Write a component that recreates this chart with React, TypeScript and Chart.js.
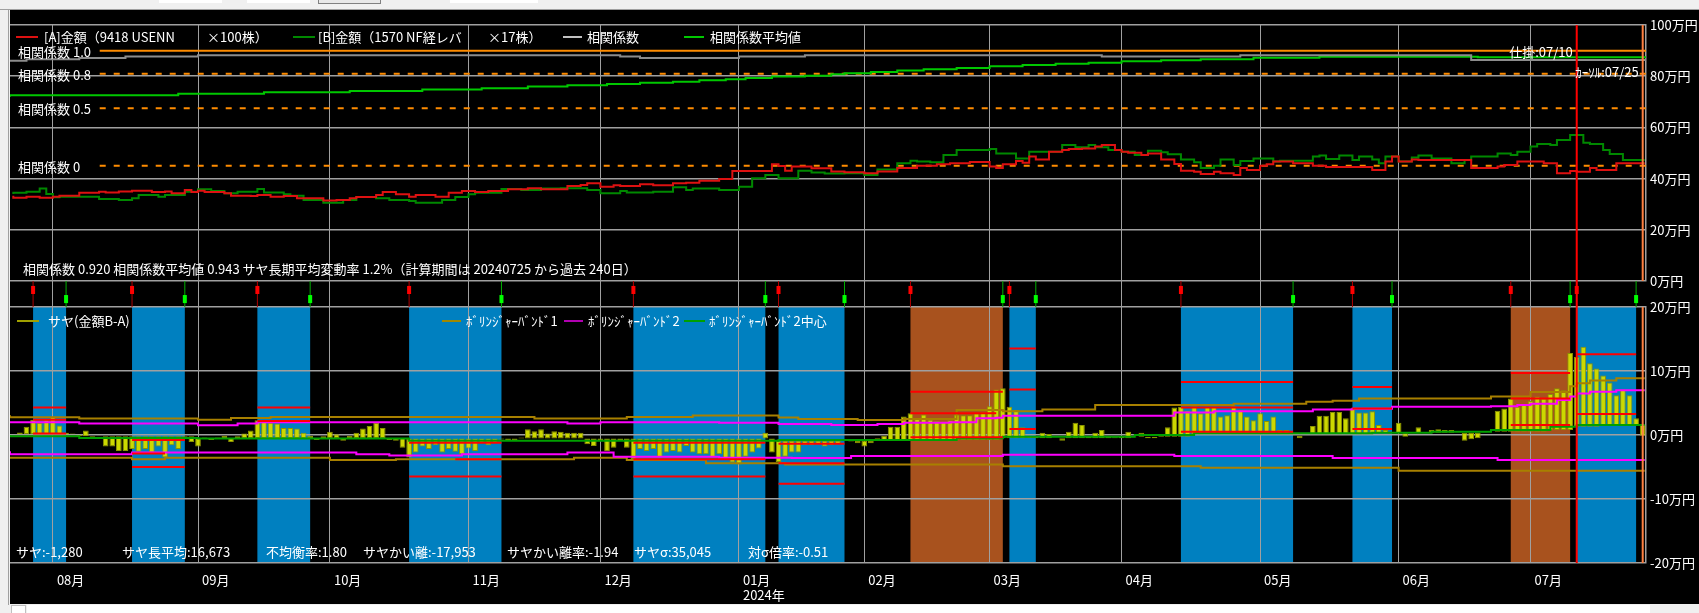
import React, { useEffect, useRef } from 'react';
import { Chart, registerables } from 'chart.js';

Chart.register(...registerables);

const FONT = '"Noto Sans CJK JP", "Noto Sans", sans-serif';
Chart.defaults.font.family = FONT;

// ---------- categories: trading-day index 0..247 (2023-07-24 .. 2024-07-25) ----------
const dayCount = 248;
const monthStartIdx = [6, 28, 48, 69, 89, 110, 129, 148, 168, 189, 210, 230];
const monthLabels = ['08月', '09月', '10月', '11月', '12月', '01月', '02月', '03月', '04月', '05月', '06月', '07月'];
const yearLabel = '2024年';
const yearLabelMonth = 5;
const entryMarkDay = 237; // 仕掛 07/10
const cursorDay = 247; // カーソル 07/25

// ---------- top panel: amounts (万円), step change points [day, value] ----------
const amountA: number[][] = [
  [0, 33.3], [2, 32.5], [4, 32.9], [6, 32.5], [7, 32.9], [10, 33.3], [13, 34.5], [14, 34.9], [16, 34.6], [18, 35.0],
  [21, 35.3], [23, 34.8], [24, 35.0], [26, 34.3], [27, 35.5], [28, 34.8], [29, 35.3], [32, 34.8], [33, 34.3], [36, 33.3],
  [37, 33.2], [39, 33.6], [41, 32.9], [43, 33.2], [47, 32.3], [49, 31.4], [51, 31.6], [52, 32.3], [55, 32.8], [56, 33.6],
  [58, 34.8], [60, 33.9], [61, 32.9], [64, 33.6], [66, 32.9], [68, 34.5], [70, 35.2], [72, 34.8], [75, 35.2], [78, 35.8],
  [80, 36.2], [84, 35.8], [86, 37.1], [87, 37.5], [89, 38.2], [91, 36.8], [92, 37.4], [95, 37.1], [97, 37.8], [100, 37.4],
  [102, 38.2], [104, 38.4], [107, 39.2], [109, 39.8], [115, 43.0], [116, 45.6], [117, 44.9], [118, 43.1], [121, 44.7], [124, 44.0],
  [126, 42.8], [129, 42.45], [131, 42.06], [134, 42.8], [137, 44.1], [140, 45.0], [142, 45.6], [145, 46.0], [148, 46.5], [149, 44.7],
  [150, 44.1], [152, 45.6], [153, 46.9], [154, 46.2], [155, 48.6], [157, 47.5], [159, 50.5], [160, 51.2], [162, 51.6], [164, 51.8],
  [165, 52.5], [167, 53.1], [168, 51.2], [169, 50.5], [171, 50.1], [172, 49.2], [174, 49.8], [176, 47.5], [177, 45.7], [179, 43.1],
  [180, 42.7], [182, 41.8], [183, 42.7], [185, 42.1], [186, 41.4], [187, 44.1], [189, 43.4], [190, 45.0], [191, 45.6], [194, 46.7],
  [197, 46.0], [199, 45.0], [206, 44.5], [208, 43.4], [209, 46.7], [210, 48.6], [212, 46.7], [213, 47.5], [221, 47.3], [225, 44.1],
  [226, 44.7], [228, 45.3], [232, 46.7], [234, 46.0], [236, 42.1], [237, 43.0], [239, 42.7], [240, 44.1], [243, 43.4], [246, 46.0],
];
const amountB: number[][] = [
  [0, 34.0], [2, 34.5], [4, 34.9], [5, 36.1], [6, 34.0], [7, 32.7], [13, 32.9], [16, 32.0], [18, 31.6], [19, 32.3],
  [22, 33.6], [23, 32.9], [26, 33.6], [28, 34.9], [30, 35.8], [32, 35.2], [34, 34.3], [37, 34.9], [38, 35.9], [41, 34.6],
  [42, 33.9], [44, 33.3], [47, 31.6], [50, 30.6], [52, 31.6], [55, 32.8], [57, 32.3], [60, 31.6], [61, 31.25], [65, 30.6],
  [67, 31.6], [69, 32.8], [70, 33.9], [74, 34.5], [77, 35.9], [80, 35.5], [83, 36.1], [87, 36.2], [89, 35.5], [92, 34.3],
  [93, 35.2], [97, 34.6], [100, 34.9], [102, 36.6], [103, 35.5], [107, 36.1], [110, 35.5], [112, 36.8], [114, 40.1], [116, 41.4],
  [119, 40.1], [121, 43.1], [123, 42.4], [126, 42.0], [129, 42.1], [131, 41.4], [134, 43.6], [136, 46.0], [137, 47.0], [139, 46.7],
  [141, 46.4], [143, 49.2], [148, 51.2], [149, 51.6], [152, 49.8], [154, 47.9], [159, 50.5], [161, 53.1], [163, 52.2], [164, 53.1],
  [166, 52.2], [168, 51.2], [170, 50.5], [172, 49.2], [174, 50.9], [175, 50.3], [177, 49.5], [179, 47.5], [180, 46.4], [182, 44.1],
  [183, 45.0], [185, 47.5], [186, 45.3], [188, 46.9], [191, 47.9], [192, 46.7], [197, 47.0], [198, 48.6], [199, 49.0], [201, 47.7],
  [203, 49.0], [204, 47.3], [206, 48.6], [207, 47.5], [208, 46.0], [210, 48.6], [212, 46.7], [213, 48.2], [215, 49.0], [218, 47.9],
  [220, 46.0], [221, 47.3], [225, 48.6], [227, 49.8], [228, 49.2], [230, 50.5], [231, 52.5], [233, 53.5], [234, 53.1], [236, 55.1],
  [238, 57.0], [239, 54.0], [241, 53.5], [242, 51.2], [244, 49.6], [246, 47.3],
];

// ---------- top panel: correlation (own axis), step change points ----------
const correlation: number[][] = [
  [-0.5, 0.904], [2, 0.913], [10, 0.925], [17, 0.937], [28, 0.95], [92, 0.96], [95, 0.95], [110, 0.937], [120, 0.95],
  [165, 0.96], [186, 0.95], [221, 0.96], [238, 0.92],
];
const correlationAvg: number[][] = [
  [-0.5, 0.601], [25, 0.613], [38, 0.627], [51, 0.639], [62, 0.65], [71, 0.662], [78, 0.674], [84, 0.688], [90, 0.7],
  [95, 0.711], [100, 0.722], [104, 0.731], [108, 0.743], [111, 0.752], [115, 0.763], [120, 0.775], [124, 0.783], [126, 0.795],
  [130, 0.804], [134, 0.815], [138, 0.827], [143, 0.839], [148, 0.85], [153, 0.865], [158, 0.876], [163, 0.887], [168, 0.896],
  [174, 0.908], [180, 0.917], [188, 0.925], [198, 0.939], [222, 0.948], [237, 0.943],
];
const corrRefLevels = [1.0, 0.8, 0.5, 0];
const corrRefLabels = ['相関係数 1.0', '相関係数 0.8', '相関係数 0.5', '相関係数 0'];
const corrRefStartDay = 13.1;

// ---------- bottom panel: spread (B-A, 万円) per trading day ----------
const spread: number[] = [
  0.1, 0.4, 1.3, 2.4, 1.9, 2.4, 2.9, 1.5, 0.36, 0.25,
  0.05, 0.7, -0.3, -0.1, -1.8, -1.8, -2.5, -2.5, -2.2, -2.6,
  -2.2, -2.75, -1.8, -3.5, -1.6, -2.2, -0.67, -1.1, -1.8, -0.4,
  -0.8, -0.4, -0.1, -1.1, -0.2, 0.25, 0.7, 2.3, 2.2, 1.9,
  1.8, 1.1, 1.1, 1.0, 0.36, 0.0, -0.8, -0.2, 0.5, 0.1,
  -0.9, -0.1, 0.36, 1.0, 1.4, 1.9, 1.1, -0.8, -0.9, -2.0,
  -3.5, -2.75, -1.8, -2.2, -1.6, -2.75, -2.2, -2.6, -3.0, -2.1,
  -2.5, -1.3, -1.6, -1.3, -0.7, -0.9, -0.9, -0.4, 0.9, 0.6,
  0.9, 0.25, 0.6, 0.5, 0.36, 0.36, 0.36, -1.45, -1.7, -0.9,
  -2.5, -2.0, -0.8, -2.0, -3.8, -2.2, -2.5, -2.2, -3.5, -2.75,
  -2.5, -2.75, -1.7, -2.75, -3.0, -3.0, -3.5, -3.0, -3.8, -4.3,
  -4.6, -3.4, -2.75, -2.1, 0.36, -2.75, -4.2, -3.4, -2.75, -2.75,
  -1.6, -1.6, -1.45, -1.8, -1.6, -1.45, -0.9, -1.0, -1.3, -1.8,
  -1.3, -0.5, 0.0, 1.3, 1.3, 2.9, 3.4, 2.6, 3.2, 2.4,
  2.2, 2.1, 2.3, 3.2, 3.1, 3.1, 3.4, 3.6, 4.5, 7.1,
  7.3, 4.4, 3.9, 1.2, 0.0, -0.3, 0.36, 0.15, -0.5, -0.9,
  0.5, 1.9, 1.55, -0.26, 0.36, 0.78, 0.0, -0.36, -0.26, 0.5,
  -0.36, 0.36, -0.5, -0.5, -0.15, 1.2, 4.3, 4.4, 3.8, 4.5,
  3.4, 4.4, 4.4, 2.9, 3.1, 4.5, 3.9, 2.9, 2.3, 3.4,
  2.2, 2.9, 0.78, 0.78, 0.36, -0.5, 0.1, 1.4, 3.0, 3.0,
  3.6, 3.6, 2.6, 4.15, 3.5, 3.5, 3.7, 1.55, 0.78, 0.36,
  1.9, -0.26, 0.36, 1.2, 0.3, 0.78, 0.9, 0.78, 0.78, 0.4,
  -0.9, -0.67, -0.5, 0.3, 0.5, 3.8, 4.15, 5.7, 4.4, 4.9,
  5.3, 6.0, 5.7, 6.4, 7.3, 7.0, 12.8, 12.2, 13.8, 11.2,
  10.4, 9.3, 8.2, 6.2, 7.1, 6.2, 2.6, -0.13,
];

// Bollinger bands, step change points [day, 万円]
const bb1Upper: number[][] = [
  [-0.5, 3.1], [10, 2.78], [28, 2.57], [33, 2.4], [39, 2.65], [79, 2.83], [93, 2.57], [103, 2.83], [116, 3.05], [119, 2.75],
  [128, 2.5], [135, 2.35], [143, 2.5], [150, 3.9], [156, 3.7], [164, 4.0], [185, 4.7], [196, 4.9], [200, 5.2], [204, 5.35],
  [224, 5.7], [230, 6.0], [236, 6.7], [237, 7.6], [239, 8.1], [243, 8.5], [245, 8.85],
];
const bb1Lower: number[][] = [
  [-0.5, -3.4], [18, -3.55], [23, -3.8], [48, -3.55], [58, -3.9], [85, -3.8], [93, -3.55], [105, -3.9], [117, -4.4],
  [150, -4.6], [180, -4.9], [210, -5.1], [237, -5.6],
];
const bb2Upper: number[][] = [
  [-0.5, 2.15], [10, 2.0], [28, 1.8], [34, 1.53], [37, 1.8], [84, 2.0], [89, 1.8], [107, 2.0], [116, 1.9], [124, 1.7],
  [131, 1.56], [135, 1.7], [142, 1.9], [146, 2.0], [149, 2.6], [150, 2.7], [176, 3.0], [182, 3.5], [197, 3.7], [203, 4.0],
  [209, 4.1], [224, 4.4], [228, 4.5], [230, 4.7], [234, 4.9], [236, 5.45], [237, 6.0], [239, 6.5], [243, 6.75], [245, 7.0],
];
const bb2Lower: number[][] = [
  [-0.5, -2.52], [18, -3.0], [52, -2.75], [57, -3.0], [68, -3.2], [84, -3.0], [91, -2.75], [107, -3.4], [118, -3.55],
  [127, -3.6], [150, -3.3], [176, -3.1], [200, -3.3], [225, -3.6], [237, -3.9],
];
const bb2Center: number[][] = [
  [-0.5, 0.0], [10, -0.2], [28, -0.45], [60, -0.55], [116, -0.9], [143, -0.78], [150, -0.5], [170, -0.26], [179, 0.0],
  [206, 0.26], [215, 0.36], [224, 0.5], [233, 0.78], [237, 1.3], [241, 1.56],
];

// trade periods (entry = red mark, exit = green mark)
const entryDays = [3, 18, 37, 60, 94, 116, 136, 151, 177, 203, 227, 237];
const exitDays = [8, 26, 45, 74, 114, 126, 150, 155, 194, 209, 236, 246];
const periodKinds = ['B', 'B', 'B', 'B', 'B', 'B', 'O', 'B', 'B', 'B', 'O', 'B'];

// level lines inside trade periods
const levelStart = [3, 3, 3, 18, 18, 18, 37, 37, 60, 67, 60, 94, 94, 94, 116, 116, 116, 136, 136, 136, 151, 151, 151, 177, 177, 177, 203, 203, 203, 227, 227, 227, 237, 237];
const levelEnd = [8, 8, 8, 26, 23, 26, 45, 45, 74, 74, 74, 114, 114, 114, 126, 126, 126, 150, 149, 150, 155, 155, 155, 194, 194, 194, 209, 209, 209, 236, 236, 236, 246, 246];
const levelValue = [4.3, 2.4, 0.25, -0.8, -2.9, -5.0, 4.3, 2.2, -1.2, -3.8, -6.5, -1.2, -3.8, -6.5, -1.35, -4.4, -7.6, 6.74, 3.38, -0.36, 13.5, 7.1, 0.93, 8.3, 4.3, 0.5, 7.5, 4.15, 0.93, 9.7, 5.7, 1.56, 12.6, 3.27];

// ---------- colours ----------
const C = {
  grid: '#a0a0a0',
  text: '#ffffff',
  redA: '#dd1111',
  greenB: '#008800',
  corr: '#8c8c8c',
  corrAvg: '#00c800',
  ref: '#ff8c00',
  blue: '#0080c0',
  orangeBand: '#a8521e',
  barFill: '#ccd800',
  barEdge: '#8a9400',
  bb1: '#a88000',
  bb2: '#ff00ff',
  center: '#00a000',
  level: '#ff0000',
  entry: '#ff0000',
  cursor: '#ff8040',
};

const stepPts = (pts: number[][], end: number) =>
  pts.map(([x, y]) => ({ x, y })).concat([{ x: end, y: pts[pts.length - 1][1] }]);

const stepAt = (pts: number[][], d: number) => {
  let v = pts[0][1];
  for (const [x, y] of pts) {
    if (x <= d) v = y;
    else break;
  }
  return v;
};

const overlayPlugin = {
  id: 'overlay',
  beforeDraw(chart: any) {
    const { ctx, scales } = chart;
    const xs = scales.x;
    const yb = scales.yBot;
    ctx.save();
    for (let k = 0; k < entryDays.length; k++) {
      const x1 = xs.getPixelForValue(entryDays[k]);
      const x2 = xs.getPixelForValue(exitDays[k]);
      ctx.fillStyle = periodKinds[k] === 'O' ? C.orangeBand : C.blue;
      ctx.fillRect(x1, yb.top, x2 - x1, yb.bottom - yb.top);
    }
    ctx.restore();
  },
  afterDatasetsDraw(chart: any) {
    const { ctx, scales, chartArea } = chart;
    const xs = scales.x;
    ctx.save();
    ctx.lineWidth = 2;
    ctx.strokeStyle = C.entry;
    const xe = xs.getPixelForValue(entryMarkDay);
    ctx.beginPath();
    ctx.moveTo(xe, chartArea.top);
    ctx.lineTo(xe, chartArea.bottom);
    ctx.stroke();
    const xc = xs.getPixelForValue(cursorDay);
    ctx.strokeStyle = C.cursor;
    ctx.beginPath();
    ctx.moveTo(xc, scales.yTop.top);
    ctx.lineTo(xc, scales.yTop.bottom);
    ctx.moveTo(xc, scales.yBot.top);
    ctx.lineTo(xc, scales.yBot.bottom);
    ctx.stroke();
    ctx.restore();
  },
  afterDraw(chart: any) {
    const { ctx, scales } = chart;
    const xs = scales.x;
    const yc = scales.yCorr;
    ctx.save();
    ctx.font = `13px ${FONT}`;
    ctx.fillStyle = C.text;
    ctx.textBaseline = 'middle';
    ctx.textAlign = 'left';
    corrRefLevels.forEach((r, k) => {
      ctx.fillText(corrRefLabels[k], 18, yc.getPixelForValue(r) + 1);
    });
    monthStartIdx.forEach((d, k) => {
      const x = xs.getPixelForValue(d) + 4;
      ctx.fillText(monthLabels[k], x, 580);
      if (k === yearLabelMonth) ctx.fillText(yearLabel, x, 595);
    });
    ctx.textAlign = 'right';
    ctx.fillText('仕掛:07/10', xs.getPixelForValue(entryMarkDay) - 4, yc.getPixelForValue(1.0) + 1);
    ctx.fillText('ｶｰｿﾙ:07/25', xs.getPixelForValue(cursorDay) - 4, yc.getPixelForValue(0.8) - 2);
    ctx.restore();
  },
};

const line = (label: string, data: any[], color: string, yAxisID: string, extra: any = {}) => ({
  type: 'line' as const,
  label,
  data,
  yAxisID,
  borderColor: color,
  backgroundColor: color,
  borderWidth: 2,
  pointRadius: 0,
  fill: false,
  ...extra,
});

export default function App() {
  const ref = useRef<HTMLCanvasElement>(null);

  useEffect(() => {
    const canvas = ref.current;
    if (!canvas) return;

    const spreadBars = spread.map((v, i) => ({ x: i, y: [stepAt(bb2Center, i), v] }));
    const levelData: any[] = [];
    levelStart.forEach((s, k) => {
      levelData.push({ x: s, y: levelValue[k] }, { x: levelEnd[k], y: levelValue[k] }, { x: levelEnd[k], y: null });
    });
    const refData = (r: number) => [{ x: corrRefStartDay, y: r }, { x: 247.5, y: r }];

    const fixedW = (s: any) => { s.width = 53; };

    const chart = new Chart(canvas, {
      type: 'bar',
      data: {
        datasets: [
          line('level', levelData, C.level, 'yBot', { order: 1 }),
          line('bb2c', stepPts(bb2Center, 247.3), C.center, 'yBot', { stepped: 'after', order: 2 }),
          line('bb2u', stepPts(bb2Upper, 247.3), C.bb2, 'yBot', { stepped: 'after', order: 2 }),
          line('bb2l', stepPts(bb2Lower, 247.3), C.bb2, 'yBot', { stepped: 'after', order: 2 }),
          line('bb1u', stepPts(bb1Upper, 247.3), C.bb1, 'yBot', { stepped: 'after', order: 2 }),
          line('bb1l', stepPts(bb1Lower, 247.3), C.bb1, 'yBot', { stepped: 'after', order: 2 }),
          {
            type: 'bar' as const,
            label: 'spread',
            data: spreadBars as any,
            yAxisID: 'yBot',
            backgroundColor: C.barFill,
            borderColor: C.barEdge,
            borderWidth: 1,
            borderSkipped: false,
            grouped: false,
            categoryPercentage: 1,
            barPercentage: 0.86,
            order: 5,
          },
          {
            type: 'bar' as const, label: 'entryRect', yAxisID: 'ySig', grouped: false, maxBarThickness: 4,
            data: entryDays.map((d) => ({ x: d, y: [0.5, 0.81] })) as any, backgroundColor: '#ff0000', order: 1,
          },
          {
            type: 'bar' as const, label: 'entryLine', yAxisID: 'ySig', grouped: false, maxBarThickness: 1,
            data: entryDays.map((d) => ({ x: d, y: [0, 1] })) as any, backgroundColor: '#b00000', order: 2,
          },
          {
            type: 'bar' as const, label: 'exitRect', yAxisID: 'ySig', grouped: false, maxBarThickness: 4,
            data: exitDays.map((d) => ({ x: d, y: [0.15, 0.46] })) as any, backgroundColor: '#00ff00', order: 1,
          },
          {
            type: 'bar' as const, label: 'exitLine', yAxisID: 'ySig', grouped: false, maxBarThickness: 1,
            data: exitDays.map((d) => ({ x: d, y: [0, 1] })) as any, backgroundColor: '#00b000', order: 2,
          },
          line('A', stepPts(amountA, 247.3), C.redA, 'yTop', { stepped: 'after', order: 3 }),
          line('B', stepPts(amountB, 247.3), C.greenB, 'yTop', { stepped: 'after', order: 3 }),
          line('corr', stepPts(correlation, 247.5), C.corr, 'yCorr', { stepped: 'after', order: 3 }),
          line('corrAvg', stepPts(correlationAvg, 247.5), C.corrAvg, 'yCorr', { stepped: 'after', order: 3 }),
          line('r1', refData(corrRefLevels[0]), C.ref, 'yCorr', { order: 6 }),
          line('r08', refData(corrRefLevels[1]), C.ref, 'yCorr', { order: 6, borderDash: [6, 8] }),
          line('r05', refData(corrRefLevels[2]), C.ref, 'yCorr', { order: 6, borderDash: [6, 8] }),
          line('r0', refData(corrRefLevels[3]), C.ref, 'yCorr', { order: 6, borderDash: [6, 8] }),
        ] as any,
      },
      options: {
        animation: false,
        responsive: false,
        maintainAspectRatio: false,
        layout: { padding: { left: 10, top: 25, right: 0, bottom: 50 } },
        plugins: { legend: { display: false }, tooltip: { enabled: false } },
        events: [],
        scales: {
          x: {
            type: 'linear',
            min: -0.5,
            max: dayCount - 0.5,
            offset: false,
            afterBuildTicks: (s: any) => { s.ticks = monthStartIdx.map((v) => ({ value: v })); },
            afterFit: (s: any) => { s.height = 0; },
            ticks: { display: false },
            grid: { color: C.grid, lineWidth: 1, drawTicks: false, offset: false },
            border: { display: false },
          },
          yTop: {
            type: 'linear', position: 'right', stack: 'panels', stackWeight: 256,
            min: 0, max: 100,
            ticks: { stepSize: 20, color: C.text, padding: 4, font: { size: 13, family: FONT }, callback: (v: any) => `${v}万円` },
            grid: { color: C.grid, lineWidth: 1.5, drawTicks: false },
            border: { display: true, color: C.grid, width: 1.5 },
            afterFit: fixedW,
          },
          ySig: {
            type: 'linear', position: 'right', stack: 'panels', stackWeight: 26,
            min: 0, max: 1,
            ticks: { display: false },
            grid: { display: false, drawTicks: false },
            border: { display: false },
            afterFit: fixedW,
          },
          yBot: {
            type: 'linear', position: 'right', stack: 'panels', stackWeight: 256,
            min: -20, max: 20,
            ticks: { stepSize: 10, color: C.text, padding: 4, font: { size: 13, family: FONT }, callback: (v: any) => `${v}万円` },
            grid: { color: C.grid, lineWidth: 1.5, drawTicks: false },
            border: { display: true, color: C.grid, width: 1.5 },
            afterFit: fixedW,
          },
          // left stack is laid out in reverse order: the later axis goes on top
          yCorrRest: {
            type: 'linear', position: 'left', stack: 'corr', stackWeight: 282,
            min: 0, max: 1, display: false,
          },
          yCorr: {
            type: 'linear', position: 'left', stack: 'corr', stackWeight: 256,
            min: -1, max: 1.223, display: false,
          },
        } as any,
      },
      plugins: [overlayPlugin],
    });
    return () => chart.destroy();
  }, []);

  const T = (x: number, y: number, s: string, key: string) => (
    <div key={key} style={{ position: 'absolute', left: x, top: y - 9, height: 18, lineHeight: '18px', fontSize: 13, color: C.text, whiteSpace: 'pre' }}>{s}</div>
  );
  const Sw = (x1: number, x2: number, y: number, color: string, key: string) => (
    <div key={key} style={{ position: 'absolute', left: x1, top: y - 1, width: x2 - x1, height: 2, background: color }} />
  );

  return (
    <div style={{ position: 'fixed', left: 0, top: 0, width: 1699, height: 613, background: '#f0f0f0', overflow: 'hidden', fontFamily: FONT }}>
      {/* window frame bits */}
      <div style={{ position: 'absolute', left: 159, top: 0, width: 63, height: 3, background: '#fff' }} />
      <div style={{ position: 'absolute', left: 247, top: 0, width: 63, height: 3, background: '#fff' }} />
      <div style={{ position: 'absolute', left: 318, top: 0, width: 61, height: 3, background: '#e8e8e8', borderBottom: '1px solid #808080', borderLeft: '1px solid #808080', borderRight: '1px solid #808080' }} />
      <div style={{ position: 'absolute', left: 450, top: 0, width: 88, height: 3, background: '#fff' }} />
      <div style={{ position: 'absolute', left: 0, top: 9, width: 1699, height: 1, background: '#a0a0a0' }} />
      <div style={{ position: 'absolute', left: 8, top: 9, width: 1, height: 596, background: '#a0a0a0' }} />
      <div style={{ position: 'absolute', left: 10, top: 10, width: 1689, height: 594, background: '#000' }} />
      <div style={{ position: 'absolute', left: 27, top: 605, width: 1623, height: 8, background: '#fff' }} />
      <div style={{ position: 'absolute', left: 11, top: 605, width: 13, height: 7, background: '#fff', border: '1px solid #c0c0c0' }} />
      <canvas ref={ref} width={1699} height={613} style={{ position: 'absolute', left: 0, top: 0, width: 1699, height: 613 }} />

      {/* top legend */}
      {Sw(16, 38, 37, C.redA, 's1')}
      {T(44, 37, '[A]金額（9418 USENN', 't1')}
      {T(207, 37, '×100株）', 't2')}
      {Sw(293, 315, 37, C.greenB, 's2')}
      {T(318, 37, '[B]金額（1570 NF経レバ', 't3')}
      {T(488, 37, '×17株）', 't4')}
      {Sw(563, 582, 37, '#c0c0c0', 's3')}
      {T(587, 37, '相関係数', 't5')}
      {Sw(684, 704, 37, C.corrAvg, 's4')}
      {T(710, 37, '相関係数平均値', 't6')}

      {T(23, 269, '相関係数 0.920 相関係数平均値 0.943 サヤ長期平均変動率 1.2%（計算期間は 20240725 から過去 240日）', 't7')}

      {/* bottom legend */}
      {Sw(17, 39, 321, '#a0a000', 's5')}
      {T(48, 321, 'サヤ(金額B-A)', 't8')}
      {Sw(442, 461, 321, '#a08800', 's6')}
      {T(466, 321, 'ﾎﾞﾘﾝｼﾞｬｰﾊﾞﾝﾄﾞ1', 't9')}
      {Sw(564, 583, 321, '#b000b0', 's7')}
      {T(588, 321, 'ﾎﾞﾘﾝｼﾞｬｰﾊﾞﾝﾄﾞ2', 't10')}
      {Sw(684, 705, 321, '#00a000', 's8')}
      {T(709, 321, 'ﾎﾞﾘﾝｼﾞｬｰﾊﾞﾝﾄﾞ2中心', 't11')}

      {/* bottom stats */}
      {T(16, 552, 'サヤ:-1,280', 'u1')}
      {T(122, 552, 'サヤ長平均:16,673', 'u2')}
      {T(266, 552, '不均衡率:1.80', 'u3')}
      {T(363, 552, 'サヤかい離:-17,953', 'u4')}
      {T(507, 552, 'サヤかい離率:-1.94', 'u5')}
      {T(634, 552, 'サヤσ:35,045', 'u6')}
      {T(748, 552, '対σ倍率:-0.51', 'u7')}
    </div>
  );
}
